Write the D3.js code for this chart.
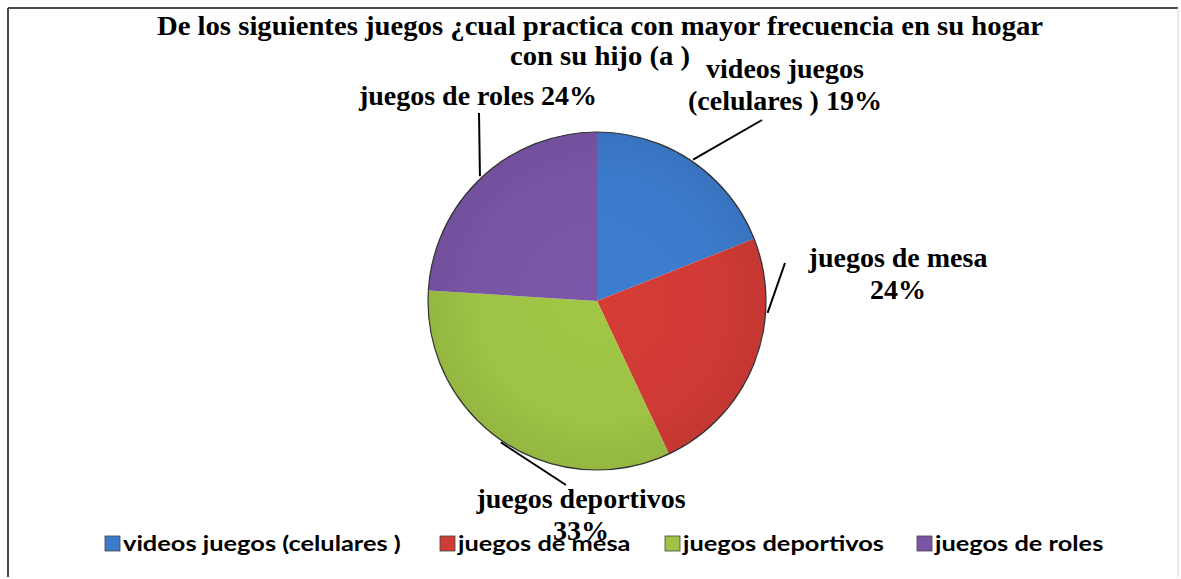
<!DOCTYPE html>
<html><head><meta charset="utf-8">
<script src="https://cdn.jsdelivr.net/npm/d3@7"></script>
<style>
html,body{margin:0;padding:0;background:#fff;}
svg{display:block;}
</style></head>
<body>
<svg id="chart" width="1181" height="579"></svg>
<script>
// ---- data ----
const categories = ["videos juegos (celulares )", "juegos de mesa", "juegos deportivos", "juegos de roles"];
const values = [19, 24, 33, 24];
const labelLines = [["videos juegos", "(celulares ) 19%"], ["juegos de mesa", "24%"], ["juegos deportivos", "33%"], ["juegos de roles 24%"]];
const colors = ["#3c7bcc", "#d13b35", "#9ec345", "#7a55a6"];
const titleLines = ["De los siguientes juegos ¿cual practica con mayor frecuencia en su hogar", "con su hijo (a )"];

// ---- layout ----
const W = 1181, H = 579;
const cx = 597, cy = 301, R = 169;
const labelLayout = [
  {x: 785, y: 78, lx: 762, ly: 120, ang: null},
  {x: 898, y: 267, lx: 785, ly: 263, ang: 94},
  {x: 581, y: 508, lx: 566, ly: 485, ang: null},
  {x: 478, y: 105, lx: 479, ly: 113, ang: null}
];
const legendX = [105, 440, 665, 917];
const legendStretch = 1.27;
const serif = "Liberation Serif, Times New Roman, serif";

const svg = d3.select("#chart");
svg.append("rect").attr("width", W).attr("height", H).attr("fill", "#fff");
// border
svg.append("line").attr("x1", 8).attr("y1", 8).attr("x2", 1178).attr("y2", 8).attr("stroke", "#4a4a4a").attr("stroke-width", 2);
svg.append("line").attr("x1", 8).attr("y1", 8).attr("x2", 8).attr("y2", 577).attr("stroke", "#4a4a4a").attr("stroke-width", 2);
svg.append("line").attr("x1", 1178).attr("y1", 8).attr("x2", 1178).attr("y2", 577).attr("stroke", "#d8d8d8").attr("stroke-width", 1);

// title
const title = svg.append("text").attr("text-anchor", "middle")
  .attr("font-family", serif).attr("font-weight", "bold")
  .attr("font-size", 28).attr("fill", "#000");
titleLines.forEach((t, i) => {
  const ts = title.append("tspan").attr("x", 600).attr("y", 35 + i * 30).text(t);
  const len = ts.node().getComputedTextLength();
  ts.attr("textLength", len * 1.025).attr("lengthAdjust", "spacingAndGlyphs");
});

// pie
const pie = d3.pie().sort(null).value(d => d);
const arcs = pie(values);
const arc = d3.arc().innerRadius(0).outerRadius(R);
const defs = svg.append("defs");
colors.forEach((c, i) => {
  const gr = defs.append("radialGradient").attr("id", "grad" + i)
    .attr("gradientUnits", "userSpaceOnUse").attr("cx", 0).attr("cy", 0).attr("r", R);
  gr.append("stop").attr("offset", "0%").attr("stop-color", d3.color(c).brighter(0.05));
  gr.append("stop").attr("offset", "70%").attr("stop-color", c);
  gr.append("stop").attr("offset", "100%").attr("stop-color", d3.color(c).darker(0.18));
});
const g = svg.append("g").attr("transform", `translate(${cx},${cy})`);
g.selectAll("path.slice").data(arcs).join("path").attr("class", "slice")
  .attr("d", arc).attr("fill", (d, i) => `url(#grad${i})`);
g.append("circle").attr("r", R).attr("fill", "none").attr("stroke", "#333").attr("stroke-width", 1.2);

// leader lines
arcs.forEach((a, i) => {
  const L = labelLayout[i];
  const ang = L.ang === null ? (a.startAngle + a.endAngle) / 2 : L.ang * Math.PI / 180;
  const sx = cx + (R + 2) * Math.sin(ang), sy = cy - (R + 2) * Math.cos(ang);
  svg.append("line").attr("x1", sx).attr("y1", sy).attr("x2", L.lx).attr("y2", L.ly)
    .attr("stroke", "#000").attr("stroke-width", 2);
});

// data labels
labelLines.forEach((lines, i) => {
  const L = labelLayout[i];
  const t = svg.append("text").attr("text-anchor", "middle")
    .attr("font-family", serif).attr("font-weight", "bold")
    .attr("font-size", 28).attr("fill", "#000");
  lines.forEach((s, j) => t.append("tspan").attr("x", L.x).attr("y", L.y + j * 32).text(s));
});

// legend
const lg = svg.append("g");
categories.forEach((c, i) => {
  lg.append("rect").attr("x", legendX[i]).attr("y", 536).attr("width", 15).attr("height", 15)
    .attr("fill", colors[i]).attr("stroke", "#444").attr("stroke-width", 0.8);
  const t = lg.append("text").attr("x", legendX[i] + 18).attr("y", 551)
    .attr("font-family", "Lato, Carlito, sans-serif").attr("font-weight", "bold")
    .attr("font-size", 20).attr("fill", "#000").text(c);
  const len = t.node().getComputedTextLength();
  t.attr("textLength", len * legendStretch).attr("lengthAdjust", "spacingAndGlyphs");
});
</script>
</body></html>
